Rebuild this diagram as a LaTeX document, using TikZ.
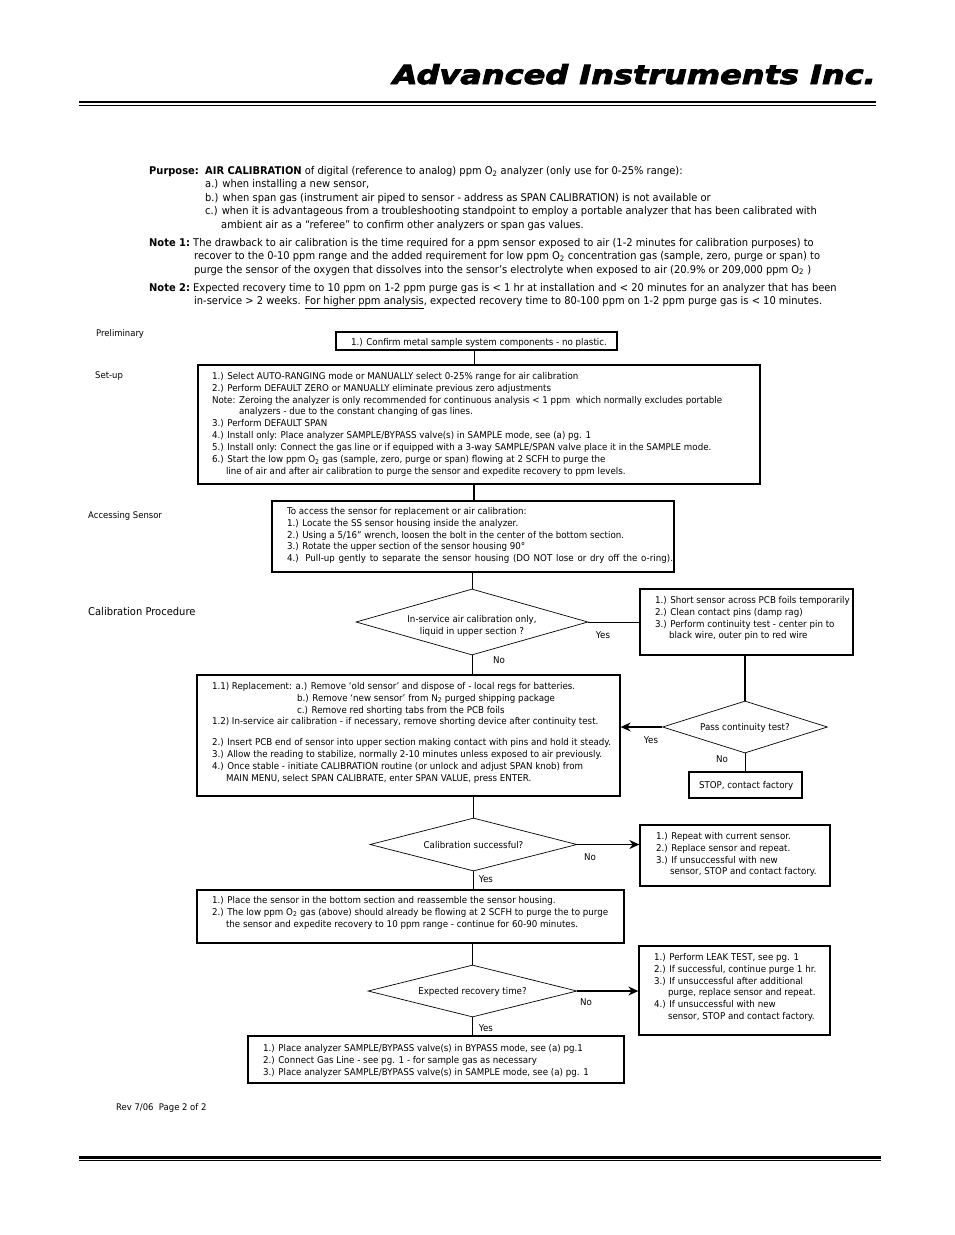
\documentclass[tikz,border=0pt]{standalone}
\usepackage{fontspec}
\usepackage{graphicx}
\usetikzlibrary{shapes.geometric,arrows.meta}
\setmainfont[FakeStretch=0.93]{DejaVu Sans}
\newfontfamily\hdrfont[BoldItalicFeatures={FakeBold=3}]{DejaVu Sans}
\newcommand{\flowfont}{\fontsize{9.35}{11.85}\selectfont}
\newcommand{\introfont}{\fontsize{10.65}{13.5}\selectfont}
\newcommand{\sub}[1]{\textsubscript{#1}}
% \fbx{name}{x1}{y1}{x2}{y2}{padx}{pady}{lines}
\newcommand{\fbx}[8]{%
  \pgfmathsetmacro{\bw}{#4-#2}\pgfmathsetmacro{\bh}{#5-#3}%
  \node[flowbox] (#1) at ({(#2+#4)/2},{(#3+#5)/2}) {%
    \begin{minipage}[c][\bh pt][t]{\bw pt}\vspace*{#7pt}\par\noindent\hspace*{#6pt}%
    \begin{tabular}[t]{@{}l@{}}#8\end{tabular}\end{minipage}};}
% \dmd{name}{cx}{cy}{w}{h}{drop}{text}
\newcommand{\dmd}[7]{%
  \node[decision, minimum width=#4pt, minimum height=#5pt] (#1) at (#2,#3)
  {\makebox[0pt]{\smash{\raisebox{-#6pt}{\begin{tabular}{@{}c@{}}#7\end{tabular}}}}};}
\tikzset{
  flowbox/.style={draw=black, line width=1.3pt, inner sep=0pt, font=\flowfont, fill=white},
  decision/.style={draw=black, line width=0.7pt, diamond, inner sep=0pt, shape aspect=3.5, font=\flowfont},
  free/.style={inner sep=0pt, font=\flowfont},
  intro/.style={inner sep=0pt, anchor=north west, font=\introfont},
  side/.style={inner sep=0pt, anchor=west, font=\fontsize{9.1}{11}\selectfont},
  link/.style={draw=black, line width=0.9pt},
  arrowlink/.style={draw=black, line width=1.3pt, -{Stealth[length=10pt,width=9pt]}},
  thickrule/.style={draw=black, line width=2.6pt},
  thinrule/.style={draw=black, line width=1pt}
}
\begin{document}
\begin{tikzpicture}[x=1pt,y=-1pt]
\useasboundingbox (0,0) rectangle (954,1235);
\fill[white] (0,0) rectangle (954,1235);
% header
\node[inner sep=0pt, anchor=base east] (title) at (876,84)
  {\resizebox{483pt}{20pt}{\hdrfont\bfseries\itshape\fontsize{20}{24}\selectfont Advanced Instruments Inc.}};
\coordinate (tl) at (79,102); \coordinate (tr) at (876,102);
\coordinate (tl2) at (79,105.5); \coordinate (tr2) at (876,105.5);
\draw[thickrule] (tl) -- (tr);
\draw[thinrule] (tl2) -- (tr2);
\coordinate (bl) at (79,1157.5); \coordinate (br) at (881,1157.5);
\coordinate (bl2) at (79,1160.5); \coordinate (br2) at (881,1160.5);
\draw[thickrule] (bl) -- (br);
\draw[thinrule] (bl2) -- (br2);
% intro
\node[intro] (purpose) at (149,164.7) {\begin{tabular}[t]{@{}l@{}}
\makebox[56pt][l]{\bfseries Purpose:}{\bfseries AIR CALIBRATION} of digital (reference to analog) ppm O\sub{2} analyzer (only use for 0-25\% range):\\
\hspace*{56pt}a.) when installing a new sensor,\\
\hspace*{56pt}b.) when span gas (instrument air piped to sensor - address as SPAN CALIBRATION) is not available or\\
\hspace*{56pt}c.) when it is advantageous from a troubleshooting standpoint to employ a portable analyzer that has been calibrated with\\
\hspace*{72pt}ambient air as a “referee” to confirm other analyzers or span gas values.
\end{tabular}};
\node[intro] (note1) at (149,236.5) {\begin{tabular}[t]{@{}l@{}}
\makebox[44pt][l]{\bfseries Note 1:}The drawback to air calibration is the time required for a ppm sensor exposed to air (1-2 minutes for calibration purposes) to\\
\hspace*{45pt}recover to the 0-10 ppm range and the added requirement for low ppm O\sub{2} concentration gas (sample, zero, purge or span) to\\
\hspace*{45pt}purge the sensor of the oxygen that dissolves into the sensor’s electrolyte when exposed to air (20.9\% or 209,000 ppm O\sub{2} )
\end{tabular}};
\node[intro] (note2) at (149,281.5) {\begin{tabular}[t]{@{}l@{}}
\makebox[44pt][l]{\bfseries Note 2:}Expected recovery time to 10 ppm on 1-2 ppm purge gas is < 1 hr at installation and < 20 minutes for an analyzer that has been\\
\hspace*{45pt}in-service > 2 weeks. \underline{For higher ppm analysis}, expected recovery time to 80-100 ppm on 1-2 ppm purge gas is < 10 minutes.
\end{tabular}};
% side labels
\node[side] (s1) at (96,334) {Preliminary};
\node[side] (s2) at (95,376) {Set-up};
\node[side] (s3) at (88,516) {Accessing Sensor};
\node[side, font=\fontsize{10.7}{12}\selectfont] (s4) at (88,611.5) {Calibration Procedure};
\node[side] (s5) at (116,1108) {Rev 7/06\ \ Page 2 of 2};
% boxes
\fbx{b0}{336}{332}{617}{350}{15}{5}{1.) Confirm metal sample system components - no plastic.}
\fbx{b1}{198}{365}{760}{484}{14}{6}{%
1.) Select AUTO-RANGING mode or MANUALLY select 0-25\% range for air calibration\\
2.) Perform DEFAULT ZERO or MANUALLY eliminate previous zero adjustments\\
Note: Zeroing the analyzer is only recommended for continuous analysis < 1 ppm\ \ which normally excludes portable\\
\hspace*{27pt}analyzers - due to the constant changing of gas lines.\\
3.) Perform DEFAULT SPAN\\
4.) Install only: Place analyzer SAMPLE/BYPASS valve(s) in SAMPLE mode, see (a) pg. 1\\
5.) Install only: Connect the gas line or if equipped with a 3-way SAMPLE/SPAN valve place it in the SAMPLE mode.\\
6.) Start the low ppm O\sub{2} gas (sample, zero, purge or span) flowing at 2 SCFH to purge the\\
\hspace*{14pt}line of air and after air calibration to purge the sensor and expedite recovery to ppm levels.}
\fbx{b2}{272}{501}{674}{572}{15}{5}{%
To access the sensor for replacement or air calibration:\\
1.) Locate the SS sensor housing inside the analyzer.\\
2.) Using a 5/16” wrench, loosen the bolt in the center of the bottom section.\\
3.) Rotate the upper section of the sensor housing 90°\\
\makebox[386pt][s]{4.) Pull-up gently to separate the sensor housing (DO NOT lose or dry off the o-ring).}}
\fbx{b3}{640}{589}{853}{655}{15}{6}{%
1.) Short sensor across PCB foils temporarily\\
2.) Clean contact pins (damp rag)\\
3.) Perform continuity test - center pin to\\
\hspace*{14pt}black wire, outer pin to red wire}
\fbx{b4}{197}{675}{620}{796}{15}{6}{%
1.1) Replacement: a.) Remove ‘old sensor’ and dispose of - local regs for batteries.\\
\hspace*{85pt}b.) Remove ‘new sensor’ from N\sub{2} purged shipping package\\
\hspace*{85pt}c.) Remove red shorting tabs from the PCB foils\\
1.2) In-service air calibration - if necessary, remove shorting device after continuity test.\\[9pt]
2.) Insert PCB end of sensor into upper section making contact with pins and hold it steady.\\
3.) Allow the reading to stabilize, normally 2-10 minutes unless exposed to air previously.\\
4.) Once stable - initiate CALIBRATION routine (or unlock and adjust SPAN knob) from\\
\hspace*{14pt}MAIN MENU, select SPAN CALIBRATE, enter SPAN VALUE, press ENTER.}
\fbx{b5}{689}{772}{802}{798}{10}{8}{STOP, contact factory}
\fbx{b6}{640}{825}{830}{886}{16}{6}{%
1.) Repeat with current sensor.\\
2.) Replace sensor and repeat.\\
3.) If unsuccessful with new\\
\hspace*{14pt}sensor, STOP and contact factory.}
\fbx{b7}{197}{890}{624}{943}{15}{5}{%
1.) Place the sensor in the bottom section and reassemble the sensor housing.\\
2.) The low ppm O\sub{2} gas (above) should already be flowing at 2 SCFH to purge the to purge\\
\hspace*{14pt}the sensor and expedite recovery to 10 ppm range - continue for 60-90 minutes.}
\fbx{b8}{639}{946}{830}{1035}{15}{6}{%
1.) Perform LEAK TEST, see pg. 1\\
2.) If successful, continue purge 1 hr.\\
3.) If unsuccessful after additional\\
\hspace*{14pt}purge, replace sensor and repeat.\\
4.) If unsuccessful with new\\
\hspace*{14pt}sensor, STOP and contact factory.}
\fbx{b9}{248}{1036}{624}{1083}{15}{7}{%
1.) Place analyzer SAMPLE/BYPASS valve(s) in BYPASS mode, see (a) pg.1\\
2.) Connect Gas Line - see pg. 1 - for sample gas as necessary\\
3.) Place analyzer SAMPLE/BYPASS valve(s) in SAMPLE mode, see (a) pg. 1}
% decisions
\dmd{d1}{472}{622}{232}{66}{6}{In-service air calibration only,\\liquid in upper section ?}
\dmd{d2}{745}{727}{165}{52}{3.5}{Pass continuity test?}
\dmd{d3}{473.5}{844.5}{207}{53}{3.5}{Calibration successful?}
\dmd{d4}{472.5}{991}{209}{52}{3.5}{Expected recovery time?}
% connector spine
\coordinate (sp) at (474,0);
\coordinate (sr) at (745,0);
\draw[link, line width=0.7pt] (sp |- b0.south) -- (sp |- b1.north);
\draw[link, line width=1.2pt] (sp |- b1.south) -- (sp |- b2.north);
\draw[link] (d1.north |- b2.south) -- (d1.north);
\draw[link] (d1.east) -- (b3.west);
\draw[link] (d1.south) -- (d1.south |- b4.north);
\draw[link, line width=1.1pt] (sr |- b3.south) -- (d2.north);
\draw[arrowlink] (d2.west) -- (b4.east |- d2.west);
\draw[link] (d2.south) -- (sr |- b5.north);
\draw[link, line width=0.7pt] (d3.north |- b4.south) -- (d3.north);
\draw[arrowlink] (d3.east) -- (b6.west |- d3.east);
\draw[link] (d3.south) -- (d3.south |- b7.north);
\draw[link] (d4.north |- b7.south) -- (d4.north);
\draw[arrowlink] (d4.east) -- (b8.west |- d4.east);
\draw[link] (d4.south) -- (d4.south |- b9.north);
% branch labels
\node[free] (y1) at (603,635) {Yes};
\node[free] (n1) at (499,660) {No};
\node[free] (y2) at (651,740) {Yes};
\node[free] (n2) at (722,759) {No};
\node[free] (n3) at (590,857) {No};
\node[free] (y3) at (486,879) {Yes};
\node[free] (n4) at (586,1002) {No};
\node[free] (y4) at (486,1028) {Yes};
\end{tikzpicture}
\end{document}
